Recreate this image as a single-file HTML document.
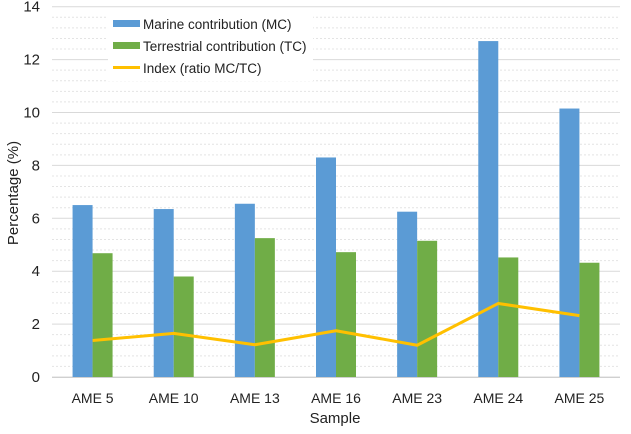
<!DOCTYPE html>
<html><head><meta charset="utf-8"><style>
body{margin:0;background:#fff;}
svg text{font-family:"Liberation Sans",Arial,sans-serif;fill:#222;}
</style></head><body>
<svg id="chart" width="631" height="429" viewBox="0 0 631 429">
<g id="grid"></g>
<g id="bars"></g>
<g id="line"></g>
<g id="axes"></g>
<g>
<rect x="108" y="9" width="205" height="72" fill="#fff"/>
<g><rect x="113" y="20" width="27" height="7" fill="#5b9bd5"/><text x="143" y="29" font-size="13.5">Marine contribution (MC)</text></g>
<g><rect x="113" y="42" width="27" height="7" fill="#70ad47"/><text x="143" y="51" font-size="13.5">Terrestrial contribution (TC)</text></g>
<g><rect x="113" y="66" width="27" height="3" fill="#ffc000"/><text x="143" y="73" font-size="13.5">Index (ratio MC/TC)</text></g>
</g>
<text x="18" y="193" font-size="15" transform="rotate(-90 18 193)" text-anchor="middle">Percentage (%)</text>
<text x="335" y="423" font-size="15" text-anchor="middle">Sample</text>
</svg>
<script>
const categories=["AME 5","AME 10","AME 13","AME 16","AME 23","AME 24","AME 25"];
const mcValues=[6.5,6.35,6.55,8.3,6.25,12.7,10.15];
const tcValues=[4.68,3.8,5.25,4.72,5.15,4.52,4.32];
const indexValues=[1.38,1.65,1.22,1.75,1.2,2.78,2.32];
const yTicks=[0,2,4,6,8,10,12,14];
const NS="http://www.w3.org/2000/svg";
const L=52,R=620,Y0=377,PXU=26.45,BW=20;
const y=v=>Y0-v*PXU;
const step=(R-L)/categories.length;
const xc=i=>L+step*(i+0.5);
function mk(tag,attrs,parent){const e=document.createElementNS(NS,tag);for(const k in attrs)e.setAttribute(k,attrs[k]);document.getElementById(parent).appendChild(e);return e;}
for(let v=0;v<=14.001;v+=0.4){
 const major=Math.abs(v/2-Math.round(v/2))<0.01;
 const g=mk('line',{x1:L,x2:R,y1:y(v),y2:y(v),stroke:major?'#d9d9d9':'#e4e4e4','stroke-width':1,'stroke-dasharray':major?'':'2,2'},'grid');
 
 
}
yTicks.forEach(t=>{const e=mk('text',{x:40,y:y(t)+5,'font-size':15,'text-anchor':'end'},'axes');e.textContent=t;
 
 });
categories.forEach((c,i)=>{
 const b=mk('rect',{x:xc(i)-BW,y:y(mcValues[i]),width:BW,height:Y0-y(mcValues[i]),fill:'#5b9bd5'},'bars');
 
 
 const g=mk('rect',{x:xc(i),y:y(tcValues[i]),width:BW,height:Y0-y(tcValues[i]),fill:'#70ad47'},'bars');
 
 
 const t=mk('text',{x:xc(i),y:403,'font-size':14,'text-anchor':'middle'},'axes');t.textContent=c;
 
 
});
const ax=mk('line',{x1:L,x2:R,y1:Y0+0.5,y2:Y0+0.5,stroke:'#d0d0d0','stroke-width':1},'axes');


const pl=mk('polyline',{points:indexValues.map((v,i)=>xc(i)+','+y(v)).join(' '),fill:'none',stroke:'#ffc000','stroke-width':3,'stroke-linejoin':'round'},'line');


</script>
</body></html>
